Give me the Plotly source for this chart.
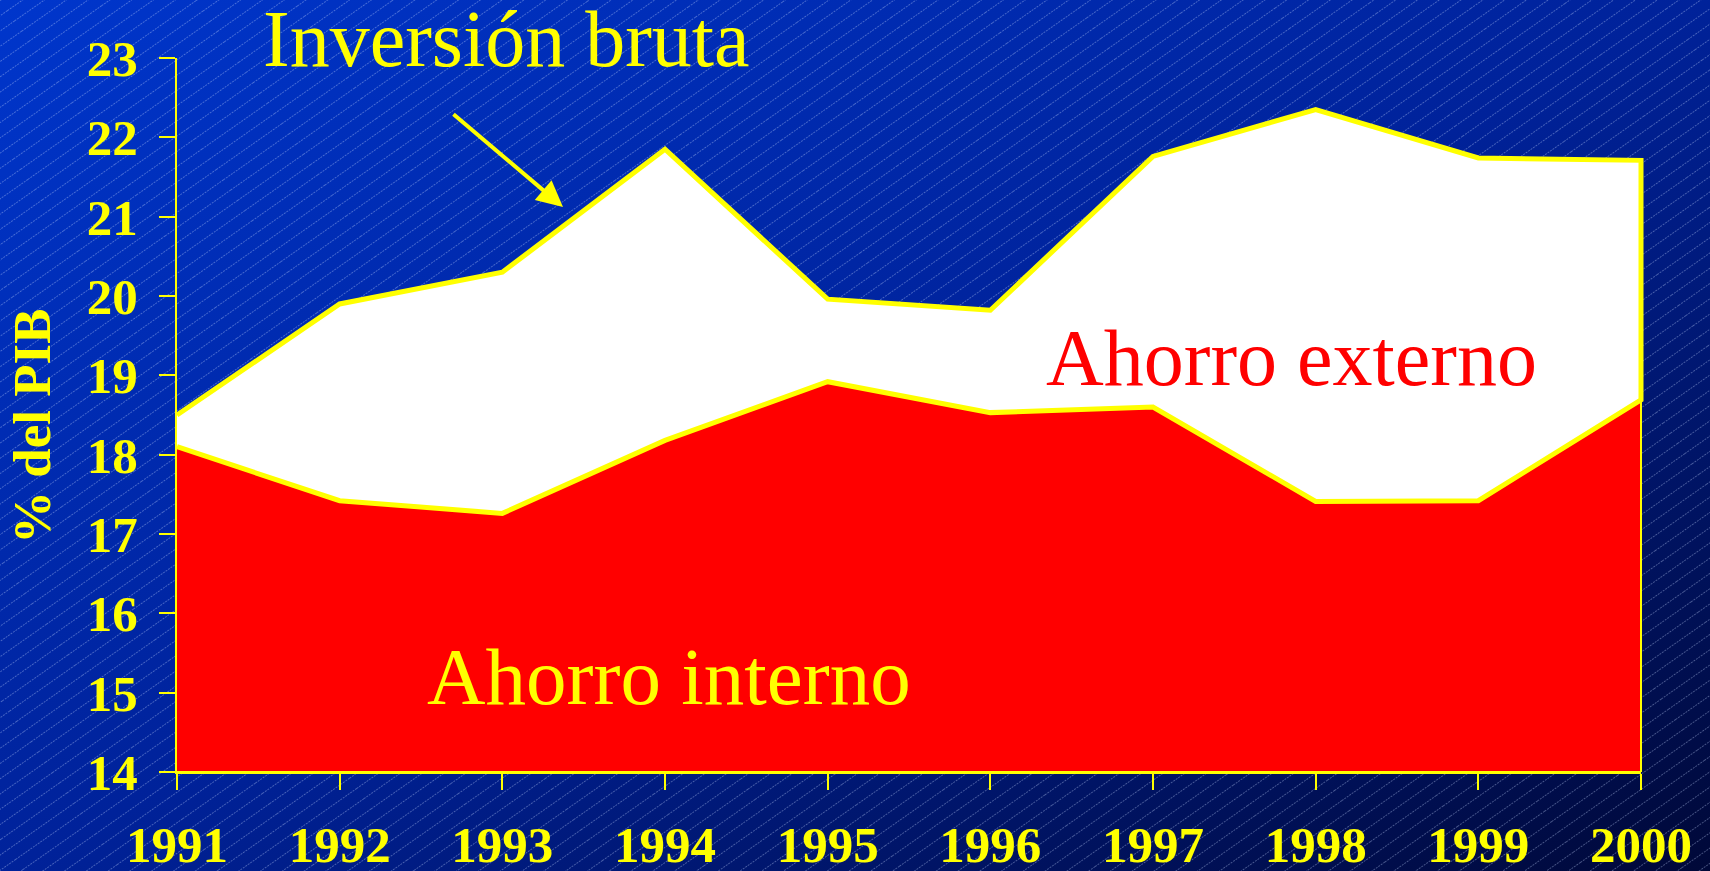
import base64
import plotly.graph_objects as go

# ---- data ----
years = [1991, 1992, 1993, 1994, 1995, 1996, 1997, 1998, 1999, 2000]
inversion_bruta = [18.5, 19.9, 20.3, 21.85, 19.96, 19.82, 21.76, 22.35, 21.74, 21.71]
ahorro_interno = [18.1, 17.42, 17.26, 18.18, 18.92, 18.53, 18.6, 17.41, 17.42, 18.69]
y_ticks = list(range(14, 24))
Y_MIN, Y_MAX = 14, 23

# ---- layout geometry (pixels) ----
W, H = 1710, 871
ML, MR, MT, MB = 167, 59, 58, 99
PW, PH = W - ML - MR, H - MT - MB
AX_L, AX_R = 177, 1641            # pixel extent of the visible x axis
YEAR_PX = (AX_R - AX_L) / (years[-1] - years[0])
EXT = (AX_L - ML) / YEAR_PX       # extra range so edge outlines are not clipped


def px(x):
    return (x - ML) / PW


def py(y):
    return 1 - (y - MT) / PH


YELLOW = "#FFFF00"
RED = "#FF0000"
SERIF = "Liberation Serif, Times New Roman, serif"

# ---- background: diagonal gradient with fine hatching ----
svg = f"""<svg xmlns='http://www.w3.org/2000/svg' width='{W}' height='{H}' viewBox='0 0 {W} {H}'>
<defs>
<linearGradient id='g' x1='0' y1='0' x2='1' y2='1'>
<stop offset='0' stop-color='#0036CC'/>
<stop offset='0.5' stop-color='#00229A'/>
<stop offset='1' stop-color='#000838'/>
</linearGradient>
<pattern id='p' width='80' height='12.5' patternUnits='userSpaceOnUse' patternTransform='rotate(-35)'>
<line x1='0' y1='0.5' x2='80' y2='0.5' stroke='#c8d8ff' stroke-opacity='0.35' stroke-width='1' stroke-dasharray='2 1'/>
</pattern>
</defs>
<rect width='{W}' height='{H}' fill='url(#g)'/>
<rect width='{W}' height='{H}' fill='url(#p)'/>
</svg>"""
bg_src = "data:image/svg+xml;base64," + base64.b64encode(svg.encode()).decode()

fig = go.Figure()

# Ahorro interno (red area) - on the wide, invisible x/y axes
fig.add_trace(go.Scatter(
    x=years + [years[-1], years[0]],
    y=ahorro_interno + [Y_MIN, Y_MIN],
    fill="toself", fillcolor=RED, mode="lines",
    line=dict(color=YELLOW, width=2),
    xaxis="x", yaxis="y", hoverinfo="skip", showlegend=False,
))

# Ahorro externo (white area between internal saving and gross investment)
fig.add_trace(go.Scatter(
    x=years + years[::-1],
    y=inversion_bruta + ahorro_interno[::-1],
    fill="toself", fillcolor="#FFFFFF", mode="lines",
    line=dict(color=YELLOW, width=5),
    xaxis="x", yaxis="y", hoverinfo="skip", showlegend=False,
))

# invisible trace that carries the visible axes (x2/y2), drawn on top
fig.add_trace(go.Scatter(
    x=years, y=inversion_bruta, mode="lines", line=dict(width=0),
    opacity=0, xaxis="x2", yaxis="y2", hoverinfo="skip", showlegend=False,
))

tickfont = dict(family=SERIF, size=51, color=YELLOW, weight="bold")

fig.update_layout(
    width=W, height=H,
    margin=dict(l=ML, r=MR, t=MT, b=MB, pad=0, autoexpand=False),
    paper_bgcolor="#001a80",
    plot_bgcolor="rgba(0,0,0,0)",
    xaxis=dict(
        domain=[0, 1],
        range=[years[0] - EXT, years[-1] + EXT],
        visible=False, fixedrange=True, anchor="y", automargin=False,
    ),
    yaxis=dict(
        domain=[0, 1], range=[Y_MIN, Y_MAX],
        visible=False, fixedrange=True, anchor="x", automargin=False,
    ),
    xaxis2=dict(
        domain=[px(AX_L), px(AX_R)],
        range=[years[0], years[-1]],
        tickvals=years, ticktext=[str(y) for y in years],
        showline=True, linecolor=YELLOW, linewidth=2,
        ticks="outside", ticklen=16, tickwidth=2, tickcolor=YELLOW,
        tickfont=tickfont, ticklabelstandoff=11,
        showgrid=False, zeroline=False, fixedrange=True,
        anchor="y2", automargin=False,
    ),
    yaxis2=dict(
        domain=[0, 1],
        range=[Y_MIN, Y_MAX],
        tickvals=y_ticks,
        showline=True, linecolor=YELLOW, linewidth=2,
        ticks="outside", ticklen=16, tickwidth=2, tickcolor=YELLOW,
        tickfont=tickfont, ticklabelstandoff=11,
        showgrid=False, zeroline=False, fixedrange=True,
        anchor="x2", automargin=False,
    ),
    images=[dict(
        source=bg_src, xref="paper", yref="paper",
        x=-ML / PW, y=1 + MT / PH, sizex=W / PW, sizey=H / PH,
        xanchor="left", yanchor="top", sizing="stretch", layer="below",
    )],
    annotations=[
        dict(text="Inversión bruta", xref="paper", yref="paper",
             x=px(506), y=py(39), xanchor="center", yanchor="middle",
             showarrow=False, font=dict(family=SERIF, size=80, color=YELLOW)),
        dict(text="", xref="paper", yref="paper",
             x=px(563), y=py(207), ax=-111, ay=-94,
             showarrow=True, arrowhead=2, arrowsize=1.3, arrowwidth=4,
             arrowcolor=YELLOW),
        dict(text="Ahorro externo", xref="paper", yref="paper",
             x=px(1291), y=py(358), xanchor="center", yanchor="middle",
             showarrow=False, font=dict(family=SERIF, size=80, color=RED)),
        dict(text="Ahorro interno", xref="paper", yref="paper",
             x=px(669), y=py(677), xanchor="center", yanchor="middle",
             showarrow=False, font=dict(family=SERIF, size=81, color=YELLOW)),
        dict(text="% del PIB", xref="paper", yref="paper",
             x=px(32), y=py(426), xanchor="center", yanchor="middle",
             textangle=-90, showarrow=False,
             font=dict(family=SERIF, size=53, color=YELLOW, weight="bold")),
    ],
)

fig.write_html(
    "out.html",
    config={"displayModeBar": False},
    post_script="document.body.style.margin='0';document.body.style.overflow='hidden';",
)
